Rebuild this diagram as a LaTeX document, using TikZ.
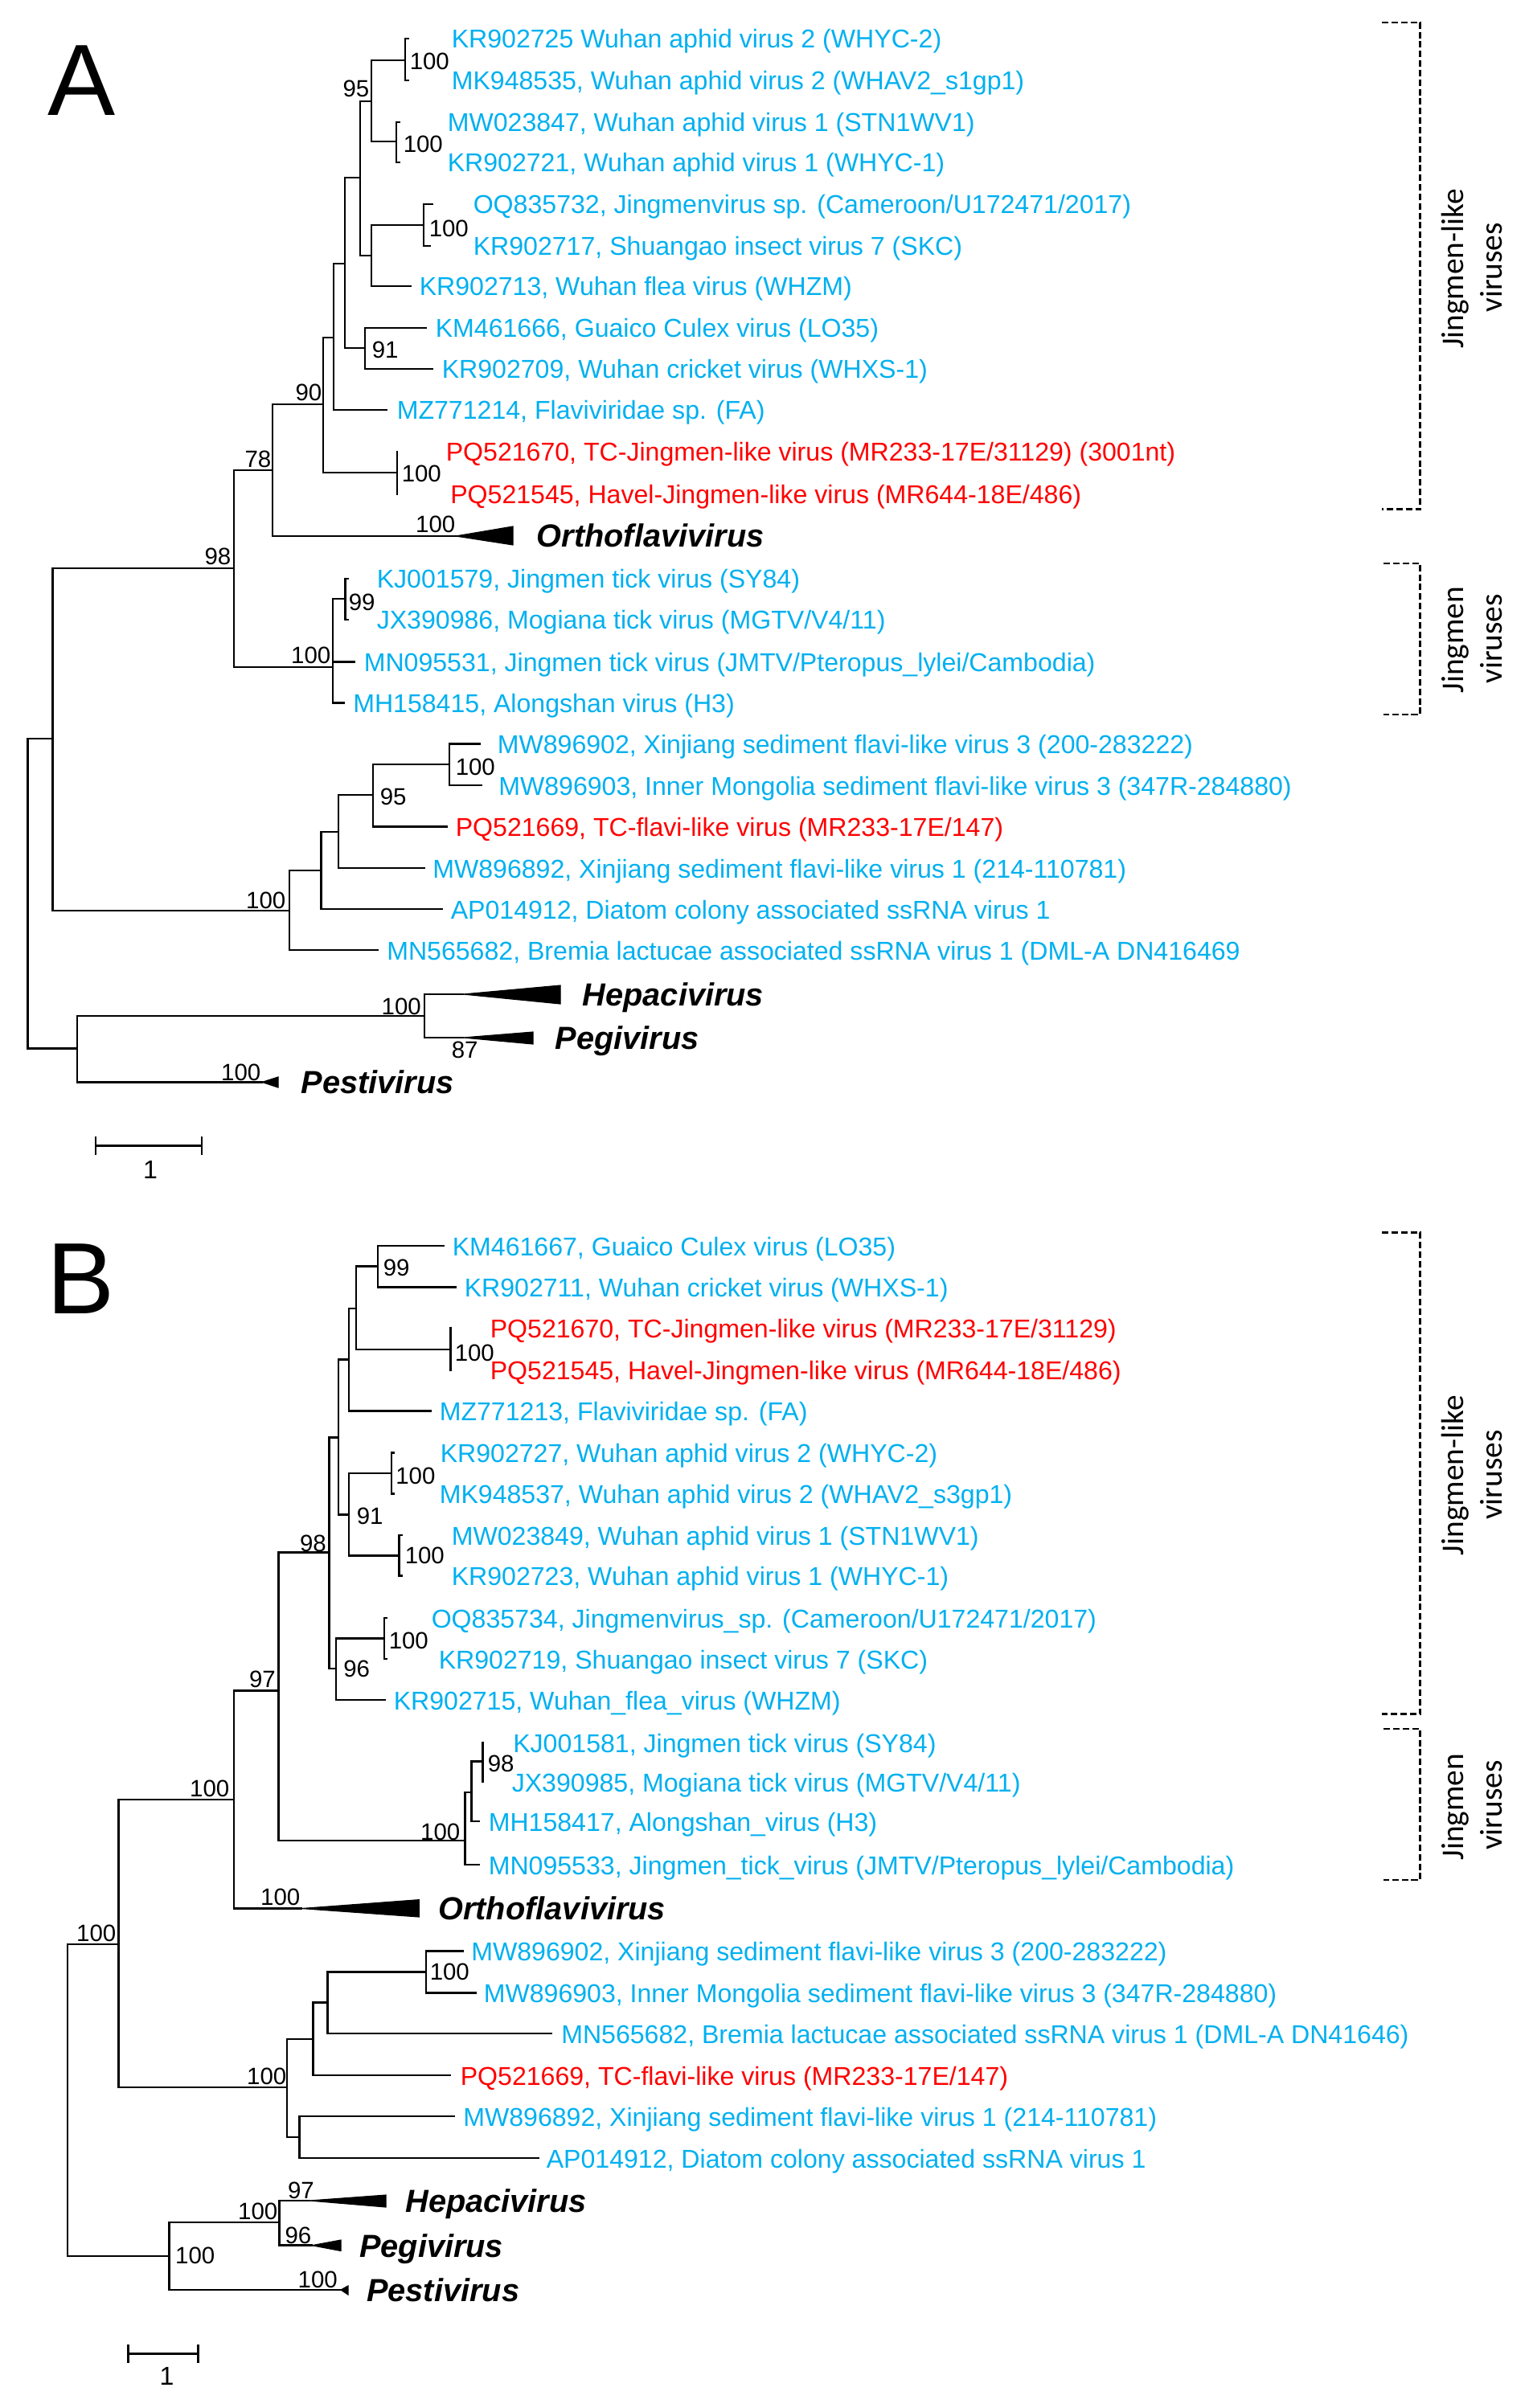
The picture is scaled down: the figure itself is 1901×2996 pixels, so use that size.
\documentclass[tikz,border=0pt]{standalone}
\usepackage{fontspec}
\setmainfont{Liberation Sans}
\newfontfamily\carl{Carlito}
\definecolor{vblue}{RGB}{0,176,240}
\definecolor{vred}{RGB}{255,0,0}
\newcommand\leaffont{\fontsize{8.4}{10}\selectfont}
\newcommand\supfont{\fontsize{7.7}{9}\selectfont}
\newcommand\taxfont{\fontsize{10.4}{12}\selectfont\bfseries\itshape}
\newcommand\grpfont{\carl\fontsize{10.3}{12}\selectfont}
\newcommand\panfont{\fontsize{33}{36}\selectfont}
\tikzset{
  br/.style={line width=0.72pt, line cap=rect},
  lb/.style={text=vblue, font=\leaffont, anchor=base west, inner sep=0pt},
  lr/.style={text=vred, font=\leaffont, anchor=base west, inner sep=0pt},
  supw/.style={font=\supfont, anchor=base west, inner sep=0pt},
  supe/.style={font=\supfont, anchor=base east, inner sep=0pt},
  taxon/.style={font=\taxfont, anchor=base west, inner sep=0pt},
  tri/.style={fill=black, draw=black, line width=0.3pt, line join=miter},
  grpline/.style={line width=0.75pt, dash pattern=on 2.1pt off 1.0pt},
  grptext/.style={font=\grpfont, rotate=90, anchor=base, inner sep=0pt},
  panel/.style={font=\panfont, anchor=base west, inner sep=0pt},
}
\begin{document}
\begin{tikzpicture}[x=0.2617pt, y=-0.2617pt]
\useasboundingbox (0,0) rectangle (1901,2996);

% ================= PANEL A =================
\node[panel] (labA) at (59,144) {A};

\coordinate (aR) at (34.8,1111);
\coordinate (aI1) at (65.6,919);
\coordinate (aIb) at (96,1304.6);
\coordinate (a98) at (291,707);
\coordinate (aS) at (360,1133);
\coordinate (a78) at (339,585);
\coordinate (aJ) at (414,830);
\coordinate (a90) at (402,503);
\coordinate (aOr) at (567,667);
\coordinate (aW) at (415,420);
\coordinate (aPQ) at (494,588);
\coordinate (aZ) at (429,328);
\coordinate (aX) at (448,221);
\coordinate (a91) at (454,433);
\coordinate (a95) at (462,126);
\coordinate (aY) at (462,318);
\coordinate (aW2) at (504,75);
\coordinate (aW1) at (493,176);
\coordinate (aOQ) at (527,280);
\coordinate (a99) at (429.5,745);
\coordinate (aS1) at (399.5,1083);
\coordinate (aS2) at (421,1035);
\coordinate (aS95) at (464,989);
\coordinate (aSm) at (559,951);
\coordinate (aH) at (528,1264);
\coordinate (aHe) at (576,1237);
\coordinate (aPe) at (576,1291);
\coordinate (aPs) at (326,1346.4);

\coordinate (la1) at (508,48);
\coordinate (la2) at (508,100);
\coordinate (la3) at (497,152);
\coordinate (la4) at (497,202);
\coordinate (la5) at (538,254);
\coordinate (la6) at (535,306);
\coordinate (la7) at (511,356);
\coordinate (la8) at (530,408);
\coordinate (la9) at (538,459);
\coordinate (la10) at (481,510);
\coordinate (la11) at (494,562);
\coordinate (la12) at (494,615);
\coordinate (la14) at (433,720);
\coordinate (la15) at (433,771);
\coordinate (la16) at (441,823.5);
\coordinate (la17) at (428,874.5);
\coordinate (la18) at (597,925.5);
\coordinate (la19) at (599,977);
\coordinate (la20) at (556,1028.6);
\coordinate (la21) at (527.7,1080);
\coordinate (la22) at (550,1131);
\coordinate (la23) at (470,1182);

\draw[br] (aR) |- (aI1);  \draw[br] (aR) |- (aIb);
\draw[br] (aI1) |- (a98); \draw[br] (aI1) |- (aS);
\draw[br] (a98) |- (a78); \draw[br] (a98) |- (aJ);
\draw[br] (a78) |- (a90); \draw[br] (a78) |- (aOr);
\draw[br] (a90) |- (aW);  \draw[br] (a90) |- (aPQ);
\draw[br] (aW) |- (aZ);   \draw[br] (aW) |- (la10);
\draw[br] (aZ) |- (aX);   \draw[br] (aZ) |- (a91);
\draw[br] (aX) |- (a95);  \draw[br] (aX) |- (aY);
\draw[br] (a95) |- (aW2); \draw[br] (a95) |- (aW1);
\draw[br] (aW2) |- (la1); \draw[br] (aW2) |- (la2);
\draw[br] (aW1) |- (la3); \draw[br] (aW1) |- (la4);
\draw[br] (aY) |- (aOQ);  \draw[br] (aY) |- (la7);
\draw[br] (aOQ) |- (la5); \draw[br] (aOQ) |- (la6);
\draw[br] (a91) |- (la8); \draw[br] (a91) |- (la9);
\draw[br] (aPQ) |- (la11); \draw[br] (aPQ) |- (la12);
\draw[br] (aJ) |- (a99);  \draw[br] (aJ) |- (la16); \draw[br] (aJ) |- (la17);
\draw[br] (a99) |- (la14); \draw[br] (a99) |- (la15);
\draw[br] (aS) |- (aS1);  \draw[br] (aS) |- (la23);
\draw[br] (aS1) |- (aS2); \draw[br] (aS1) |- (la22);
\draw[br] (aS2) |- (aS95); \draw[br] (aS2) |- (la21);
\draw[br] (aS95) |- (aSm); \draw[br] (aS95) |- (la20);
\draw[br] (aSm) |- (la18); \draw[br] (aSm) |- (la19);
\draw[br] (aIb) |- (aH);  \draw[br] (aIb) |- (aPs);
\draw[br] (aH) |- (aHe);  \draw[br] (aH) |- (aPe);

\fill[tri] (aOr) -- (638,655) -- (638,678) -- cycle;
\fill[tri] (aHe) -- (697,1226) -- (697,1249) -- cycle;
\fill[tri] (aPe) -- (663,1284) -- (663,1299) -- cycle;
\fill[tri] (aPs) -- (346,1340) -- (346,1353) -- cycle;

\node[lb] (ta1) at (561,60) {KR902725 Wuhan aphid virus 2 (WHYC-2)};
\node[lb] (ta2) at (561,112) {MK948535, Wuhan aphid virus 2 (WHAV2\_s1gp1)};
\node[lb] (ta3) at (556,164) {MW023847, Wuhan aphid virus 1 (STN1WV1)};
\node[lb] (ta4) at (556,214) {KR902721, Wuhan aphid virus 1 (WHYC-1)};
\node[lb] (ta5) at (588,266) {OQ835732, Jingmenvirus sp. (Cameroon/U172471/2017)};
\node[lb] (ta6) at (588,318) {KR902717, Shuangao insect virus 7 (SKC)};
\node[lb] (ta7) at (521,368) {KR902713, Wuhan flea virus (WHZM)};
\node[lb] (ta8) at (541,420) {KM461666, Guaico Culex virus (LO35)};
\node[lb] (ta9) at (549,471) {KR902709, Wuhan cricket virus (WHXS-1)};
\node[lb] (ta10) at (493,522) {MZ771214, Flaviviridae sp. (FA)};
\node[lr] (ta11) at (554,574) {PQ521670, TC-Jingmen-like virus (MR233-17E/31129) (3001nt)};
\node[lr] (ta12) at (559.5,627) {PQ521545, Havel-Jingmen-like virus (MR644-18E/486)};
\node[taxon] (ta13) at (667,681) {Orthoflavivirus};
\node[lb] (ta14) at (468,732) {KJ001579, Jingmen tick virus (SY84)};
\node[lb] (ta15) at (468,783) {JX390986, Mogiana tick virus (MGTV/V4/11)};
\node[lb] (ta16) at (452,835.5) {MN095531, Jingmen tick virus (JMTV/Pteropus\_lylei/Cambodia)};
\node[lb] (ta17) at (438.5,886.5) {MH158415, Alongshan virus (H3)};
\node[lb] (ta18) at (618,937.5) {MW896902, Xinjiang sediment flavi-like virus 3 (200-283222)};
\node[lb] (ta19) at (619.5,989) {MW896903, Inner Mongolia sediment flavi-like virus 3 (347R-284880)};
\node[lr] (ta20) at (566,1040.6) {PQ521669, TC-flavi-like virus (MR233-17E/147)};
\node[lb] (ta21) at (537.5,1092) {MW896892, Xinjiang sediment flavi-like virus 1 (214-110781)};
\node[lb] (ta22) at (560,1143) {AP014912, Diatom colony associated ssRNA virus 1};
\node[lb] (ta23) at (480.5,1194) {MN565682, Bremia lactucae associated ssRNA virus 1 (DML-A DN416469};
\node[taxon] (ta24) at (724,1251) {Hepacivirus};
\node[taxon] (ta25) at (690,1305) {Pegivirus};
\node[taxon] (ta26) at (374,1360) {Pestivirus};

\node[supw] (sa1) at (509,87) {100};
\node[supe] (sa2) at (460,121) {95};
\node[supw] (sa3) at (501,190) {100};
\node[supw] (sa4) at (533,295) {100};
\node[supw] (sa5) at (462,446) {91};
\node[supe] (sa6) at (401,499) {90};
\node[supw] (sa7) at (499,600) {100};
\node[supe] (sa8) at (338,582) {78};
\node[supe] (sa9) at (567,663) {100};
\node[supe] (sa10) at (288,703) {98};
\node[supw] (sa11) at (433,760) {99};
\node[supe] (sa12) at (412,826) {100};
\node[supw] (sa13) at (472,1001) {95};
\node[supw] (sa14) at (566,964) {100};
\node[supe] (sa15) at (356,1130) {100};
\node[supe] (sa16) at (524.5,1262) {100};
\node[supw] (sa17) at (561,1316) {87};
\node[supe] (sa18) at (325,1344) {100};

% scale bar A
\coordinate (sbA1) at (119,1425.5);
\coordinate (sbA2) at (251,1425.5);
\draw[br] (sbA1) -- (sbA2);
\draw[br] ([yshift=-2.6pt]sbA1) -- ([yshift=2.6pt]sbA1);
\draw[br] ([yshift=-2.6pt]sbA2) -- ([yshift=2.6pt]sbA2);
\node[font=\leaffont, anchor=base, inner sep=0pt] (sbAt) at (187,1466) {1};

% group brackets A
\coordinate (gA1a) at (1719,28);   \coordinate (gA1b) at (1766.7,28);
\coordinate (gA1c) at (1766.7,633.6); \coordinate (gA1d) at (1719,633.6);
\draw[grpline] (gA1a) -- (gA1b) -- (gA1c) -- (gA1d);
\node[grptext] (gA1t1) at (1820,334.5) {Jingmen-like};
\node[grptext] (gA1t2) at (1868,333) {viruses};
\coordinate (gA2a) at (1721,701);   \coordinate (gA2b) at (1766.7,701);
\coordinate (gA2c) at (1766.7,889); \coordinate (gA2d) at (1721,889);
\draw[grpline] (gA2a) -- (gA2b) -- (gA2c) -- (gA2d);
\node[grptext] (gA2t1) at (1820,796) {Jingmen};
\node[grptext] (gA2t2) at (1868,795) {viruses};

% ================= PANEL B =================
\node[panel] (labB) at (58,1634) {B};

\coordinate (bR) at (84,2613);
\coordinate (b1) at (147.3,2419);
\coordinate (bBot) at (210.7,2807);
\coordinate (b2) at (291,2239);
\coordinate (bS) at (357,2597);
\coordinate (b97) at (346.6,2103.5);
\coordinate (bOr) at (375,2374.5);
\coordinate (b98) at (409.7,1931.5);
\coordinate (bJ) at (578.8,2290);
\coordinate (bQ) at (421,1788.7);
\coordinate (b96) at (418,2076);
\coordinate (bRr) at (434,1691.7);
\coordinate (b91) at (434,1884.6);
\coordinate (bSs) at (443,1628);
\coordinate (b99) at (470,1575.4);
\coordinate (bPQ) at (560.5,1679);
\coordinate (bW2) at (487,1833);
\coordinate (bW1) at (496.6,1935.6);
\coordinate (bOQ) at (478,2038.7);
\coordinate (bJ2) at (586.5,2230);
\coordinate (bJ98) at (600.6,2191.7);
\coordinate (bS1) at (389.7,2537);
\coordinate (bS2) at (372.7,2659);
\coordinate (bS3) at (407.6,2491.4);
\coordinate (bSm) at (530,2453.5);
\coordinate (bH) at (347.3,2765);
\coordinate (bHe) at (384.8,2738);
\coordinate (bPe) at (388,2793.7);
\coordinate (bPs) at (424,2849);

\coordinate (lb1) at (552,1550);
\coordinate (lb2) at (566.6,1601.4);
\coordinate (lb3) at (560.5,1652.5);
\coordinate (lb4) at (560.5,1704.5);
\coordinate (lb5) at (536,1755.5);
\coordinate (lb6) at (490,1807.6);
\coordinate (lb7) at (490,1858.6);
\coordinate (lb8) at (500,1910);
\coordinate (lb9) at (500,1960.6);
\coordinate (lb10) at (481,2013);
\coordinate (lb11) at (481,2064);
\coordinate (lb12) at (478.6,2115);
\coordinate (lb13) at (600.6,2168);
\coordinate (lb14) at (600.6,2217);
\coordinate (lb15) at (596,2266);
\coordinate (lb16) at (596,2320);
\coordinate (lb18) at (576,2427.5);
\coordinate (lb19) at (591.5,2479.5);
\coordinate (lb20) at (686,2530);
\coordinate (lb21) at (560,2582);
\coordinate (lb22) at (564.7,2633);
\coordinate (lb23) at (669.6,2685);

\draw[br] (bR) |- (b1);   \draw[br] (bR) |- (bBot);
\draw[br] (b1) |- (b2);   \draw[br] (b1) |- (bS);
\draw[br] (b2) |- (b97);  \draw[br] (b2) |- (bOr);
\draw[br] (b97) |- (b98); \draw[br] (b97) |- (bJ);
\draw[br] (b98) |- (bQ);  \draw[br] (b98) |- (b96);
\draw[br] (bQ) |- (bRr);  \draw[br] (bQ) |- (b91);
\draw[br] (bRr) |- (bSs); \draw[br] (bRr) |- (lb5);
\draw[br] (bSs) |- (b99); \draw[br] (bSs) |- (bPQ);
\draw[br] (b99) |- (lb1); \draw[br] (b99) |- (lb2);
\draw[br] (bPQ) |- (lb3); \draw[br] (bPQ) |- (lb4);
\draw[br] (b91) |- (bW2); \draw[br] (b91) |- (bW1);
\draw[br] (bW2) |- (lb6); \draw[br] (bW2) |- (lb7);
\draw[br] (bW1) |- (lb8); \draw[br] (bW1) |- (lb9);
\draw[br] (b96) |- (bOQ); \draw[br] (b96) |- (lb12);
\draw[br] (bOQ) |- (lb10); \draw[br] (bOQ) |- (lb11);
\draw[br] (bJ) |- (bJ2);  \draw[br] (bJ) |- (lb16);
\draw[br] (bJ2) |- (bJ98); \draw[br] (bJ2) |- (lb15);
\draw[br] (bJ98) |- (lb13); \draw[br] (bJ98) |- (lb14);
\draw[br] (bS) |- (bS1);  \draw[br] (bS) |- (bS2);
\draw[br] (bS1) |- (bS3); \draw[br] (bS1) |- (lb21);
\draw[br] (bS3) |- (bSm); \draw[br] (bS3) |- (lb20);
\draw[br] (bSm) |- (lb18); \draw[br] (bSm) |- (lb19);
\draw[br] (bS2) |- (lb22); \draw[br] (bS2) |- (lb23);
\draw[br] (bBot) |- (bH); \draw[br] (bBot) |- (bPs);
\draw[br] (bH) |- (bHe);  \draw[br] (bH) |- (bPe);

\fill[tri] (bOr) -- (521.4,2363.6) -- (521.4,2385) -- cycle;
\fill[tri] (bHe) -- (480,2731) -- (480,2746) -- cycle;
\fill[tri] (bPe) -- (424,2787) -- (424,2800.5) -- cycle;
\fill[tri] (bPs) -- (433,2844) -- (433,2855) -- cycle;

\node[lb] (tb1) at (562,1562) {KM461667, Guaico Culex virus (LO35)};
\node[lb] (tb2) at (577,1613.4) {KR902711, Wuhan cricket virus (WHXS-1)};
\node[lr] (tb3) at (609,1664.5) {PQ521670, TC-Jingmen-like virus (MR233-17E/31129)};
\node[lr] (tb4) at (609,1716.5) {PQ521545, Havel-Jingmen-like virus (MR644-18E/486)};
\node[lb] (tb5) at (546,1767.5) {MZ771213, Flaviviridae sp. (FA)};
\node[lb] (tb6) at (547,1819.6) {KR902727, Wuhan aphid virus 2 (WHYC-2)};
\node[lb] (tb7) at (546,1870.6) {MK948537, Wuhan aphid virus 2 (WHAV2\_s3gp1)};
\node[lb] (tb8) at (561,1922) {MW023849, Wuhan aphid virus 1 (STN1WV1)};
\node[lb] (tb9) at (561,1972.6) {KR902723, Wuhan aphid virus 1 (WHYC-1)};
\node[lb] (tb10) at (536,2025) {OQ835734, Jingmenvirus\_sp. (Cameroon/U172471/2017)};
\node[lb] (tb11) at (545,2076) {KR902719, Shuangao insect virus 7 (SKC)};
\node[lb] (tb12) at (489,2127) {KR902715, Wuhan\_flea\_virus (WHZM)};
\node[lb] (tb13) at (637.5,2180) {KJ001581, Jingmen tick virus (SY84)};
\node[lb] (tb14) at (636,2229) {JX390985, Mogiana tick virus (MGTV/V4/11)};
\node[lb] (tb15) at (607,2278) {MH158417, Alongshan\_virus (H3)};
\node[lb] (tb16) at (607,2332) {MN095533, Jingmen\_tick\_virus (JMTV/Pteropus\_lylei/Cambodia)};
\node[taxon] (tb17) at (544.6,2388.5) {Orthoflavivirus};
\node[lb] (tb18) at (585.5,2439.5) {MW896902, Xinjiang sediment flavi-like virus 3 (200-283222)};
\node[lb] (tb19) at (601,2491.5) {MW896903, Inner Mongolia sediment flavi-like virus 3 (347R-284880)};
\node[lb] (tb20) at (697.5,2542) {MN565682, Bremia lactucae associated ssRNA virus 1 (DML-A DN41646)};
\node[lr] (tb21) at (572,2594) {PQ521669, TC-flavi-like virus (MR233-17E/147)};
\node[lb] (tb22) at (575.5,2645) {MW896892, Xinjiang sediment flavi-like virus 1 (214-110781)};
\node[lb] (tb23) at (679,2697) {AP014912, Diatom colony associated ssRNA virus 1};
\node[taxon] (tb24) at (503.6,2752) {Hepacivirus};
\node[taxon] (tb25) at (446.4,2808) {Pegivirus};
\node[taxon] (tb26) at (455.4,2863) {Pestivirus};

\node[supw] (sb1) at (476,1587) {99};
\node[supw] (sb2) at (565,1693) {100};
\node[supw] (sb3) at (491.6,1846) {100};
\node[supw] (sb4) at (443,1896) {91};
\node[supw] (sb5) at (503,1945) {100};
\node[supe] (sb6) at (406.6,1930) {98};
\node[supw] (sb7) at (483,2051) {100};
\node[supw] (sb8) at (426.5,2086) {96};
\node[supe] (sb9) at (343.5,2099) {97};
\node[supe] (sb10) at (286,2235) {100};
\node[supw] (sb11) at (606,2204.5) {98};
\node[supe] (sb12) at (573,2289) {100};
\node[supe] (sb13) at (374,2370) {100};
\node[supe] (sb14) at (145,2415.6) {100};
\node[supw] (sb15) at (534,2463.6) {100};
\node[supe] (sb16) at (357,2593) {100};
\node[supe] (sb17) at (391.5,2735) {97};
\node[supe] (sb18) at (346,2761.7) {100};
\node[supe] (sb19) at (388,2791) {96};
\node[supw] (sb20) at (217.4,2816.5) {100};
\node[supe] (sb21) at (420.5,2846) {100};

% scale bar B
\coordinate (sbB1) at (159.8,2928.4);
\coordinate (sbB2) at (246.4,2928.4);
\draw[br] (sbB1) -- (sbB2);
\draw[br] ([yshift=-2.6pt]sbB1) -- ([yshift=2.6pt]sbB1);
\draw[br] ([yshift=-2.6pt]sbB2) -- ([yshift=2.6pt]sbB2);
\node[font=\leaffont, anchor=base, inner sep=0pt] (sbBt) at (207.5,2967) {1};

% group brackets B
\coordinate (gB1a) at (1719,1533.7);   \coordinate (gB1b) at (1766.7,1533.7);
\coordinate (gB1c) at (1766.7,2132.5); \coordinate (gB1d) at (1719,2132.5);
\draw[grpline] (gB1a) -- (gB1b) -- (gB1c) -- (gB1d);
\node[grptext] (gB1t1) at (1820,1835.7) {Jingmen-like};
\node[grptext] (gB1t2) at (1868,1835) {viruses};
\coordinate (gB2a) at (1721,2151);   \coordinate (gB2b) at (1766.7,2151);
\coordinate (gB2c) at (1766.7,2339); \coordinate (gB2d) at (1721,2339);
\draw[grpline] (gB2a) -- (gB2b) -- (gB2c) -- (gB2d);
\node[grptext] (gB2t1) at (1820,2248) {Jingmen};
\node[grptext] (gB2t2) at (1868,2246) {viruses};
\end{tikzpicture}
\end{document}
